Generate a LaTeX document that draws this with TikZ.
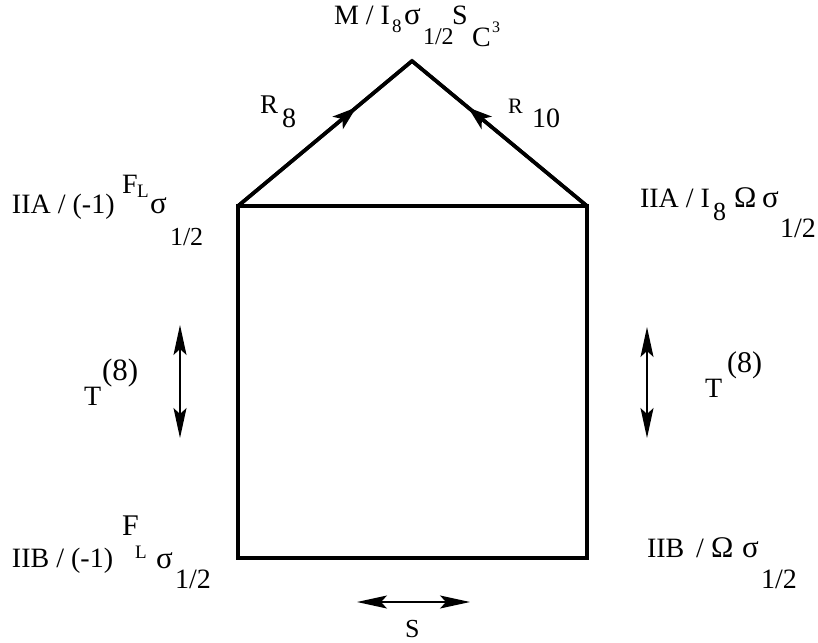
\documentclass[tikz,border=0pt]{standalone}
\usepackage{fontspec}
\setmainfont{Liberation Serif}
\usetikzlibrary{arrows.meta,decorations.markings}
\tikzset{
  piece/.style={anchor=base west, inner sep=0pt, outer sep=0pt},
  frame/.style={line width=3.6pt, line join=miter},
  slope/.style={line width=3.6pt, postaction={decorate},
    decoration={markings, mark=at position 0.68 with {\arrow{Stealth[length=24pt,width=16pt,inset=6pt]}}}},
  dbl/.style={line width=1.3pt, {Stealth[length=30pt,width=13pt,inset=6pt]}-{Stealth[length=30pt,width=13pt,inset=6pt]}}
}
\newcommand{\pc}[5]{\node[piece, font=\fontsize{#4}{#4}\selectfont] (#1) at (#2,#3) {#5};}
\begin{document}
\begin{tikzpicture}[x=1pt,y=-1pt]
\useasboundingbox (0,0) rectangle (818,642);
% geometry
\coordinate (TL) at (238,206);
\coordinate (TR) at (587,206);
\coordinate (BL) at (238,558);
\coordinate (BR) at (587,558);
\coordinate (AP) at (412,61);
\draw[frame] (TL) -- (TR) -- (BR) -- (BL) -- cycle;
\draw[slope] (TL) -- (AP);
\draw[slope] (TR) -- (AP);
\draw[line width=3.6pt, line join=miter] (TL) -- (AP) -- (TR);
% double arrows
\coordinate (LVt) at (180,325); \coordinate (LVb) at (180,438);
\coordinate (RVt) at (647,327); \coordinate (RVb) at (647,438);
\coordinate (SHl) at (357,602); \coordinate (SHr) at (470,602);
\draw[dbl] (LVt) -- (LVb);
\draw[dbl] (RVt) -- (RVb);
\draw[dbl] (SHl) -- (SHr);
% top label
\pc{ta}{334}{25}{28}{M / I}
\pc{tb}{392}{33}{19}{8}
\pc{tc}{404}{25}{31}{σ}
\pc{td}{423}{45}{24}{1/2}
\pc{te}{452}{25}{28}{S}
\pc{tf}{472}{47}{28}{C}
\pc{tg}{492}{33}{16}{3}
% R labels
\pc{ra}{260}{113}{27}{R}
\pc{rb}{282}{127}{28}{8}
\pc{rc}{508}{113}{22}{R}
\pc{rd}{532}{127}{28}{10}
% top-left
\pc{la}{12}{213}{28}{IIA / (-1)}
\pc{lb}{122}{193}{28}{F}
\pc{lc}{137}{197}{19}{L}
\pc{ld}{150}{213}{31}{σ}
\pc{le}{170}{245}{26}{1/2}
% top-right
\pc{ma}{640}{207}{28}{IIA / I}
\pc{mb}{713}{220}{26}{8}
\pc{mc}{734}{207}{30}{Ω}
\pc{md}{762}{207}{31}{σ}
\pc{me}{780}{237}{28}{1/2}
% T labels
\pc{na}{84}{405}{28}{T}
\pc{nb}{102}{380}{31}{(8)}
\pc{nc}{705}{397}{28}{T}
\pc{nd}{727}{372}{30}{(8)}
% bottom-left
\pc{ba}{12}{567}{28}{IIB / (-1)}
\pc{bb}{122}{535}{30}{F}
\pc{bc}{135}{558}{19}{L}
\pc{bd}{156}{568}{31}{σ}
\pc{be}{175}{588}{28}{1/2}
% bottom-right
\pc{ca}{647}{557}{28}{IIB}
\pc{cs}{696}{557}{28}{/}
\pc{cb}{711}{557}{30}{Ω}
\pc{cc}{742}{557}{31}{σ}
\pc{cd}{761}{588}{28}{1/2}
% S
\pc{sa}{405}{637}{26}{S}
\end{tikzpicture}
\end{document}
